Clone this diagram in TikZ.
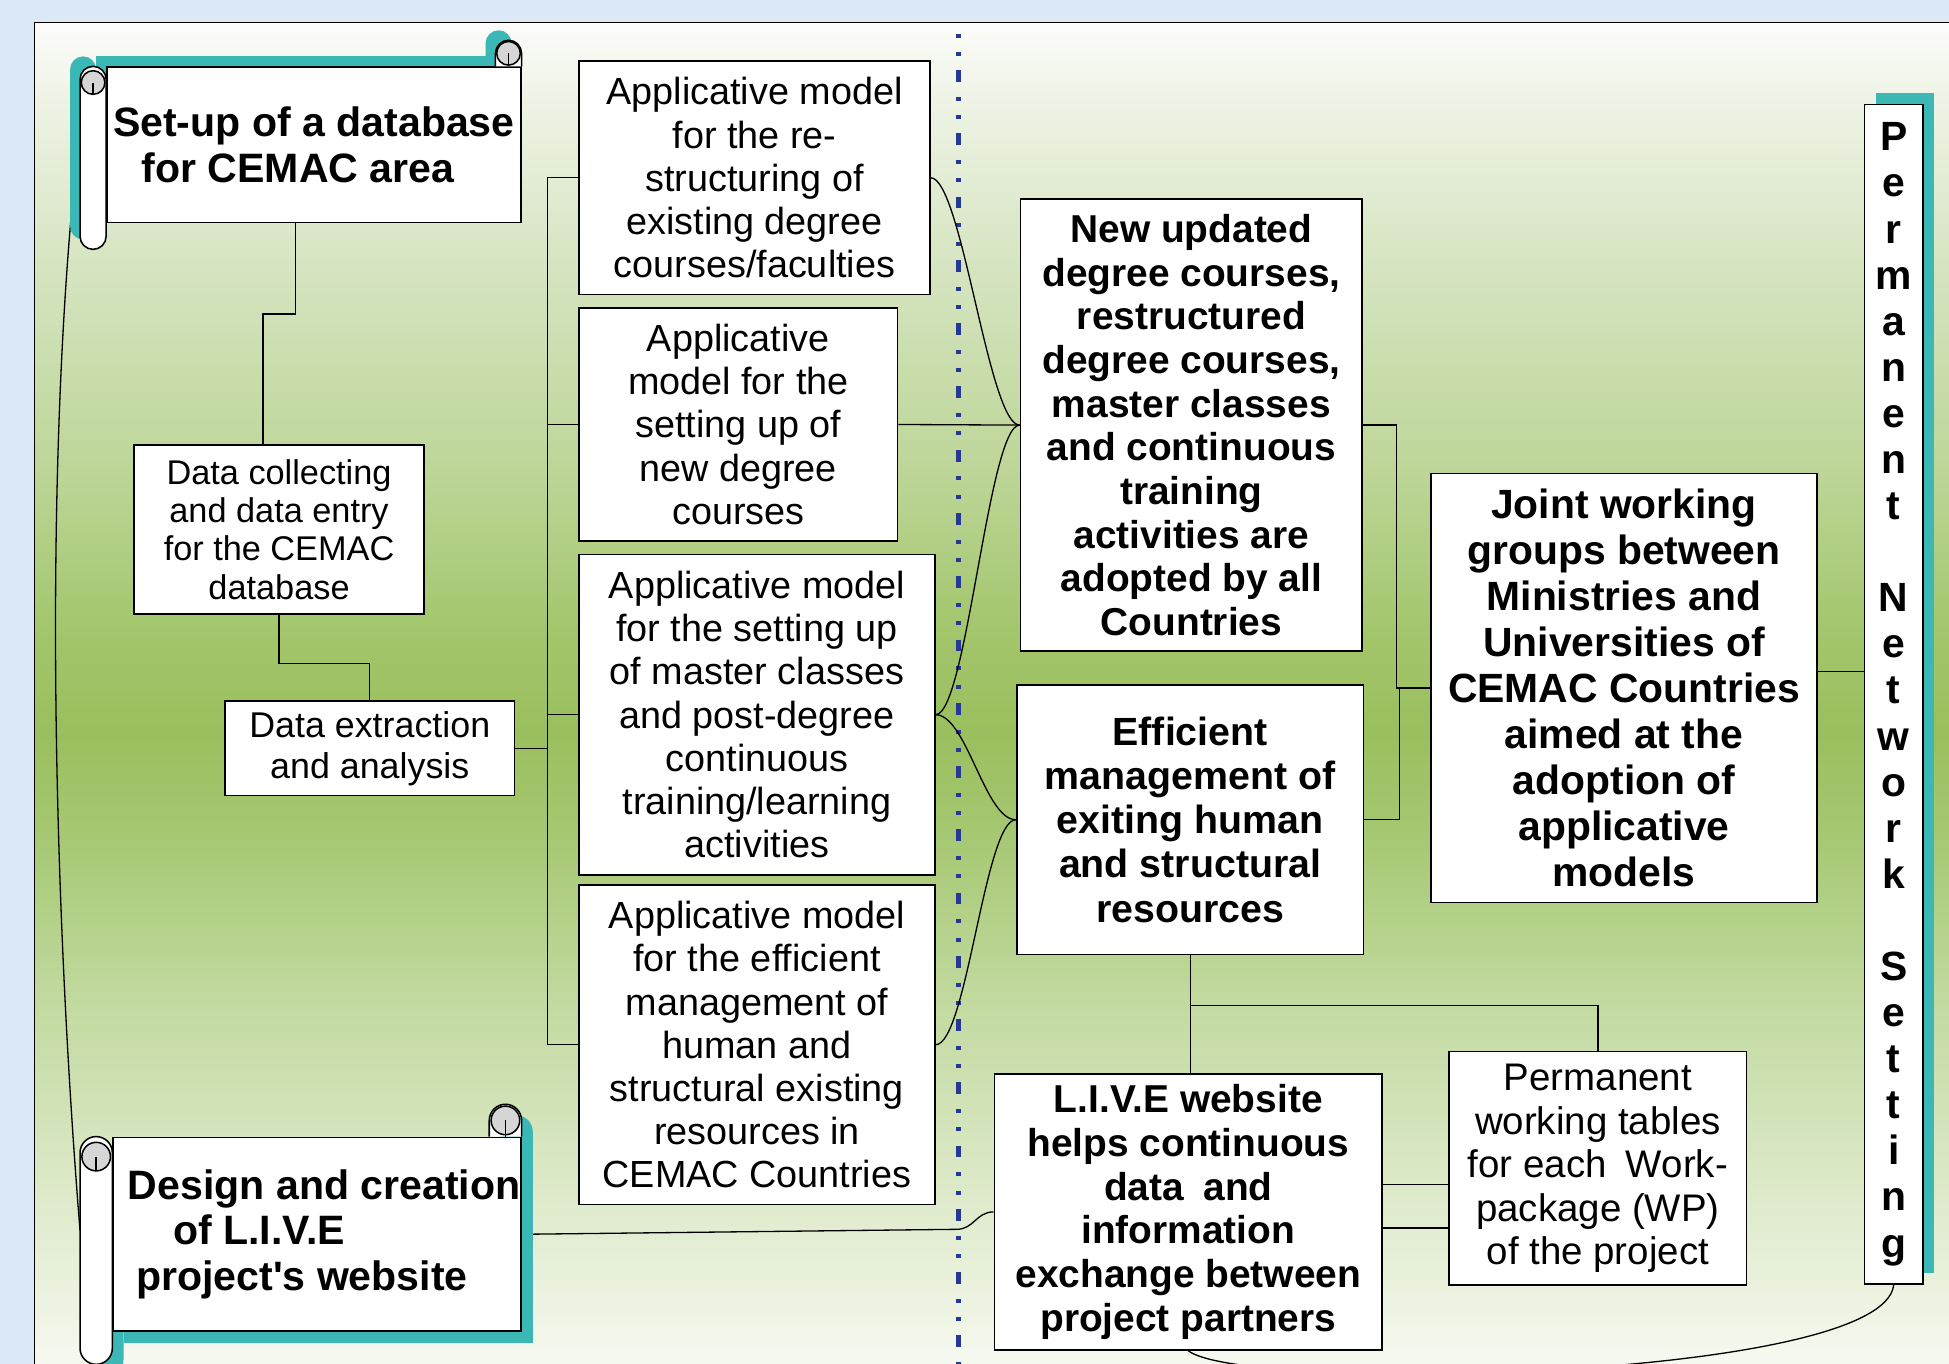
\documentclass[tikz,border=0pt]{standalone}
\usepackage{fontspec}
\setmainfont{Liberation Sans}
\usetikzlibrary{calc,shadows,backgrounds}

\definecolor{skyback}{RGB}{218,233,245}
\definecolor{tealshade}{RGB}{59,184,182}
\definecolor{curlgrey}{RGB}{214,214,214}
\definecolor{dotblue}{RGB}{38,56,150}
\definecolor{meadowA}{RGB}{246,249,240}
\definecolor{meadowB}{RGB}{230,239,215}
\definecolor{meadowC}{RGB}{196,219,163}
\definecolor{meadowD}{RGB}{165,199,112}
\definecolor{meadowE}{RGB}{154,191,94}
\definecolor{meadowF}{RGB}{162,197,106}
\definecolor{meadowG}{RGB}{188,213,150}
\definecolor{meadowH}{RGB}{214,229,193}
\definecolor{meadowI}{RGB}{238,243,229}
\definecolor{meadowJ}{RGB}{252,252,250}

\pgfdeclareverticalshading{meadow}{100bp}{color(0bp)=(meadowA); color(25bp)=(meadowA);
  color(29bp)=(meadowB); color(38bp)=(meadowC); color(45bp)=(meadowD);
  color(48.5bp)=(meadowE); color(52bp)=(meadowF); color(58bp)=(meadowG);
  color(66bp)=(meadowH); color(72bp)=(meadowI); color(75bp)=(meadowJ); color(100bp)=(meadowJ)}

\pgfdeclarelayer{paper}
\pgfdeclarelayer{wires}
\pgfdeclarelayer{shade}
\pgfsetlayers{paper,wires,shade,main}

\tikzset{
  box/.style={draw, fill=white, line width=0.8pt, align=center, inner sep=0pt},
  boxsize/.style 2 args={minimum width=#1*0.2mm, minimum height=#2*0.2mm},
  light/.style={box, font=\fontsize{17.3}{19.8}\selectfont},
  heavy/.style={box, font=\bfseries\fontsize{17.8}{20}\selectfont},
  scrollbody/.style={draw, fill=white, line width=0.7pt, inner sep=0pt, align=left,
    font=\bfseries\fontsize{18.8}{21}\selectfont},
  rollline/.style={line width=0.7pt},
  link/.style={line width=0.6pt},
}

\begin{document}
\begin{tikzpicture}[x=0.2mm,y=-0.2mm]
  \useasboundingbox (0,0) rectangle (1568,1097);
  \def\scrollroll#1#2#3#4#5{%
    % teal shade behind the scroll
    \begin{pgfonlayer}{shade}
      \fill[tealshade, rounded corners=#3] ($(#1.north west)+(-#2,0)+#4$) rectangle ($(#1.south west)+(0,#2)+#4$);
      \fill[tealshade] ($(#1.north west)+#4$) rectangle ($(#1.south east)+#4$);
      \fill[tealshade, rounded corners=#3] ($(#1.north east)+(-#2,0)+#4$) -- ($(#1.north east)+(-#2,-#2)+#4$)
        -- ($(#1.north east)+(0,-#2)+#4$) -- ($(#1.north east)+#4$);
    \end{pgfonlayer}
    % rolled ends
    \draw[rollline, fill=white, rounded corners=#3] ($(#1.north west)+(-#2,0)$) rectangle ($(#1.south west)+(0,#2)$);
    \draw[rollline, fill=white, rounded corners=#3] ($(#1.north east)+(-#2,0)$) -- ($(#1.north east)+(-#2,-#2)$)
      -- ($(#1.north east)+(0,-#2)$) -- (#1.north east);
    % curls
    \draw[rollline, fill=curlgrey] ($(#1.north west)+(-#2/2,#2*0.62)$) circle (#5);
    \draw[rollline] ($(#1.north west)+(-#2/2,#2*0.62)$) -- ++(0,#2*0.45);
    \draw[rollline, fill=curlgrey] ($(#1.north east)+(-#2/2,-#2/2)$) circle (#5);
    \draw[rollline] ($(#1.north east)+(-#2/2,-#2/2)$) -- ++(0,#2/2);
  }

  % background, frame and divider
  \begin{pgfonlayer}{paper}
    \fill[skyback] (0,0) rectangle (1568,1097);
    \shade[shading=meadow] (28,18) rectangle (1568,1097);
    \draw[line width=0.5pt] (1568,18) -- (28,18) -- (28,1097);
    \draw[dotblue, line width=0.75mm, dash pattern=on 0.64mm off 2.3mm on 0.64mm off 2.3mm on 1.9mm off 2.4mm]
      (771,27) -- (771,1100);
  \end{pgfonlayer}

  % scrolls
  \node[scrollbody, boxsize={333}{125}] (sA) at (252.5,116.5)
    {Set-up of a database\\\hspace*{0.7em}for CEMAC area};
  \scrollroll{sA}{21}{2.1mm}{(-8,-8)}{1.9mm}
  \node[scrollbody, boxsize={328}{156}] (sB) at (255,993)
    {\hspace*{0.35em}Design and creation\\\hspace*{1.45em}of L.I.V.E\\\hspace*{0.55em}project\textquotesingle s website};
  \scrollroll{sB}{26}{2.6mm}{(9,9)}{2.3mm}

  % left column
  \node[box, boxsize={233}{136}, font=\fontsize{15.7}{17.6}\selectfont] (d1) at (224.5,426)
    {Data collecting\\and data entry\\for the CEMAC\\database};
  \node[box, boxsize={233}{76}, font=\fontsize{16.4}{18.8}\selectfont] (d2) at (297.5,602)
    {Data extraction\\and analysis};

  % applicative models
  \node[light, boxsize={282}{188}] (a1) at (607,143)
    {Applicative model\\for the re-\\structuring of\\existing degree\\courses/faculties};
  \node[light, boxsize={256}{187}] (a2) at (594,341.5)
    {Applicative\\model for the\\setting up of\\new degree\\courses};
  \node[light, boxsize={286}{258}] (a3) at (609,575)
    {Applicative model\\for the setting up\\of master classes\\and post-degree\\continuous\\training/learning\\activities};
  \node[light, boxsize={286}{257}] (a4) at (609,840.5)
    {Applicative model\\for the efficient\\management of\\human and\\structural existing\\resources in\\CEMAC Countries};

  % outcomes
  \node[heavy, boxsize={275}{364}] (n1) at (958.5,342)
    {New updated\\degree courses,\\restructured\\degree courses,\\master classes\\and continuous\\training\\activities are\\adopted by all\\Countries};
  \node[heavy, boxsize={279}{217}, font=\bfseries\fontsize{18}{20.2}\selectfont] (e1) at (957.5,659.5)
    {Efficient\\management of\\exiting human\\and structural\\resources};
  \node[heavy, boxsize={311}{345}, font=\bfseries\fontsize{18.7}{21.1}\selectfont] (j1) at (1306.5,553.5)
    {Joint working\\groups between\\Ministries and\\Universities of\\CEMAC Countries\\aimed at the\\adoption of\\applicative\\models};
  \node[heavy, boxsize={312}{222}] (w1) at (956,975)
    {L.I.V.E website\\helps continuous\\data\enspace and\\information\\exchange between\\project partners};
  \node[box, boxsize={239}{188}, font=\fontsize{17.6}{19.9}\selectfont] (p1) at (1285.5,940)
    {Permanent\\working tables\\for each\enspace Work-\\package (WP)\\of the project};
  \node[heavy, boxsize={47}{949}, font=\bfseries\fontsize{18.7}{21.1}\selectfont,
    drop shadow={shadow xshift=1.8mm, shadow yshift=1.8mm, fill=tealshade, opacity=1}] (v1) at (1523.5,558.5)
    {P\\e\\r\\m\\a\\n\\e\\n\\t\\\mbox{}\\N\\e\\t\\w\\o\\r\\k\\\mbox{}\\S\\e\\t\\t\\i\\n\\g};

  \begin{pgfonlayer}{wires}
    % database branch
    \coordinate (sAfoot) at ($(sA.south)+(-15,0)$);
    \draw[link] (sAfoot) -- ++(0,73) -| ($(d1.north)+(-13,0)$);
    \draw[link] (d1.south) -- ++(0,39) -| (d2.north);
    % fork to the models
    \coordinate (trunk) at ($(a1.west)+(-25,0)$);
    \draw[link] (trunk) -- (trunk |- a4.west);
    \foreach \m in {a1,a2,a3,a4}
      \draw[link] (\m.west) -- (\m.west -| trunk);
    \draw[link] (d2.east) -- (d2.east -| trunk);
    % braces into the outcomes
    \draw[link] (a1.east) .. controls +(25,0) and +(-25,0) .. (n1.west);
    \draw[link] (a2.east) -- (n1.west);
    \draw[link] (a3.east) .. controls +(25,0) and +(-25,0) .. (n1.west);
    \draw[link] (a3.east) .. controls +(25,0) and +(-25,0) .. (e1.west);
    \draw[link] (a4.east) .. controls +(25,0) and +(-25,0) .. (e1.west);
    % joint groups and network
    \draw[link] (n1.east) -- ++(27,0) |- (j1.west);
    \draw[link] (e1.east) -- ++(28,0) |- (j1.west);
    \coordinate (jv) at ($(j1.east)+(0,-13)$);
    \draw[link] (jv) -- (jv -| v1.west);
    % website and working tables
    \draw[link] (e1.south) -- (e1.south |- w1.north);
    \draw[link] (e1.south) -- ++(0,40) -| (p1.north);
    \coordinate (wpa) at ($(w1.east)+(0,-22)$);
    \coordinate (wpb) at ($(w1.east)+(0,13)$);
    \draw[link] (wpa) -- (wpa -| p1.west);
    \draw[link] (wpb) -- (wpb -| p1.west);
    \draw[link] (sB.east) -- ++(350,-4) .. controls +(14,0) and +(-14,0) .. (w1.west);
    % loops round the edges
    \draw[link] ($(sA.south west)+(-26,-29)$) .. controls +(-24,250) and +(-21,-260) .. ($(sB.west)+(-26,-3)$);
    \draw[link] (v1.south) .. controls +(-8,77) and +(44,34) .. (w1.south);
  \end{pgfonlayer}
\end{tikzpicture}
\end{document}
